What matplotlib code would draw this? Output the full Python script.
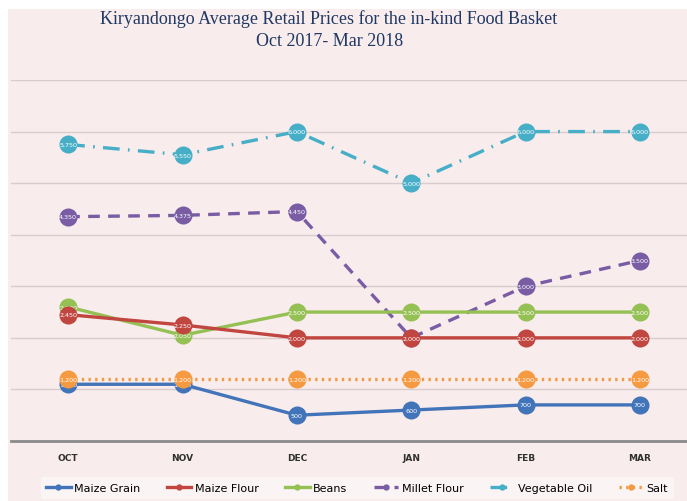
import matplotlib
matplotlib.use('Agg')
import matplotlib.pyplot as plt
from matplotlib.patches import Rectangle

# months on the x axis
months = ['OCT', 'NOV', 'DEC', 'JAN', 'FEB', 'MAR']

# average retail prices (UGX)
maize_grain = [1100, 1100, 500, 600, 700, 700]
maize_flour = [2450, 2250, 2000, 2000, 2000, 2000]
beans = [2600, 2050, 2500, 2500, 2500, 2500]
millet_flour = [4350, 4375, 4450, 2000, 3000, 3500]
vegetable_oil = [5750, 5550, 6000, 5000, 6000, 6000]
salt = [1200, 1200, 1200, 1200, 1200, 1200]

names = ['Maize Grain', 'Maize Flour', 'Beans', 'Millet Flour', 'Vegetable Oil', 'Salt']

bg = '#f8ecec'

fig = plt.figure(figsize=(6.87, 5.02), dpi=100)
fig.patch.set_facecolor('white')
fig.patches.append(Rectangle((8 / 687., 0), 1, 1 - 10 / 502., transform=fig.transFigure,
                             facecolor=bg, edgecolor='none', zorder=-10))

ax = fig.add_axes([11 / 687., 60 / 502., 686 / 687., 361 / 502.])
ax.set_facecolor(bg)
ax.patch.set_alpha(0)

x = list(range(len(months)))
series = [
    (maize_grain, '#4274b9', '-', 6),
    (maize_flour, '#c0463f', '-', 5),
    (beans, '#95c054', '-', 4),
    (millet_flour, '#7a5ca5', (0, (3.5, 2.5)), 3),
    (vegetable_oil, '#46aec7', (0, (5, 2.5, 0.5, 2.5)), 2),
    (salt, '#f59a40', (0, (0.7, 1.3)), 7),
]

for (vals, col, ls, z), nm in zip(series, names):
    ax.plot(x, vals, color=col, linestyle=ls, linewidth=2.4, marker='o',
            markersize=13, markeredgewidth=0, label=nm, zorder=z,
            dash_capstyle='butt')
    for xi, v in zip(x, vals):
        ax.text(xi, v, f'{v:,}', color='white', fontsize=4.6, ha='center',
                va='center', zorder=z + 0.5)

ax.set_xlim(-0.5, 5.5)
ax.set_ylim(0, 7000)
ax.set_yticks(range(0, 7001, 1000))
ax.set_yticklabels([])
ax.tick_params(axis='y', length=0)
ax.tick_params(axis='x', length=0, pad=9)
ax.set_xticks(x)
ax.set_xticklabels(months, fontsize=6.5, fontweight='bold', color='#303030')
ax.grid(axis='y', color='#d8cccc', linewidth=1)
ax.set_axisbelow(True)
for s in ['top', 'left', 'right']:
    ax.spines[s].set_visible(False)
ax.spines['bottom'].set_color('#8a8a8a')
ax.spines['bottom'].set_linewidth(2)

fig.text(0.479, 0.962, 'Kiryandongo Average Retail Prices for the in-kind Food Basket',
         ha='center', va='center', fontsize=13, family='Liberation Serif', color='#1f3864')
fig.text(0.479, 0.917, 'Oct 2017- Mar 2018',
         ha='center', va='center', fontsize=13, family='Liberation Serif', color='#1f3864')

leg = fig.legend(loc='center', bbox_to_anchor=(0.52, 0.026), ncol=6, fontsize=8,
                 frameon=True, handlelength=2.2, handletextpad=0.3, columnspacing=2.4,
                 markerscale=0.35, borderpad=0.5)
leg.get_frame().set_facecolor('#fcf7f7')
leg.get_frame().set_edgecolor('none')
leg.get_frame().set_boxstyle('square', pad=0)

fig.savefig('out.png', dpi=100, facecolor=fig.get_facecolor())
